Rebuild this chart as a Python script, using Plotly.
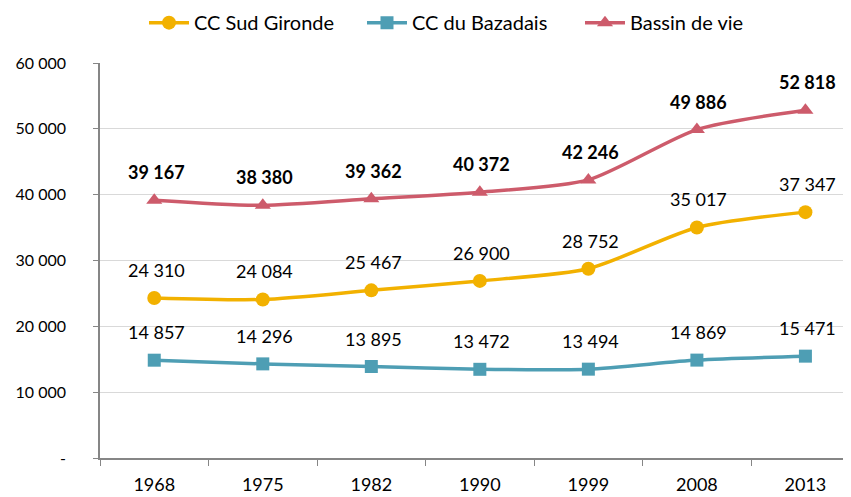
import plotly.graph_objects as go

years = ["1968", "1975", "1982", "1990", "1999", "2008", "2013"]
sud_gironde = [24310, 24084, 25467, 26900, 28752, 35017, 37347]
bazadais = [14857, 14296, 13895, 13472, 13494, 14869, 15471]
bassin = [39167, 38380, 39362, 40372, 42246, 49886, 52818]
y_ticks = [0, 10000, 20000, 30000, 40000, 50000, 60000]
y_ticktext = ["-", "10 000", "20 000", "30 000", "40 000", "50 000", "60 000"]

FONT = "Lato"
series = [
    ("CC Sud Gironde", sud_gironde, "#F2B100", "circle", 14, False),
    ("CC du Bazadais", bazadais, "#4E9EB4", "square", 13, False),
    ("Bassin de vie", bassin, "#CD5B6B", "triangle-up", 14, True),
]

def fmt(v):
    return f"{v:,}".replace(",", " ")

fig = go.Figure()
annotations = []
for name, vals, color, sym, msize, bold in series:
    fig.add_trace(go.Scatter(
        x=years, y=vals, name=name, mode="lines+markers",
        line=dict(color=color, width=3.5, shape="spline", smoothing=0.7),
        marker=dict(symbol=sym, size=msize, color=color),
    ))
    for i, v in enumerate(vals):
        t = fmt(v)
        annotations.append(dict(
            x=i, y=v, xref="x", yref="y", text=f"<b>{t}</b>" if bold else t,
            showarrow=False, yshift=28, xshift=2, yanchor="middle",
            font=dict(family=FONT, size=18, color="#000000"),
        ))

fig.update_layout(
    width=843, height=489,
    margin=dict(l=92, r=0, t=55, b=39, autoexpand=False),
    paper_bgcolor="white", plot_bgcolor="white",
    font=dict(family=FONT, color="#000000"),
    annotations=annotations,
    legend=dict(
        orientation="h", x=0.494, xref="paper", xanchor="center",
        y=0.97, yref="container", yanchor="middle",
        font=dict(family=FONT, size=20, color="#000000"),
        itemwidth=40, tracegroupgap=0, entrywidth=163,
    ),
    xaxis=dict(
        type="category", range=[-0.5, 6.42],
        showgrid=False, showline=True, linecolor="#868686", linewidth=1.5,
        ticks="outside", tickson="boundaries", ticklen=6, tickcolor="#868686",
        tickfont=dict(family=FONT, size=18, color="#000000"),
        ticklabelstandoff=10,
    ),
    yaxis=dict(
        range=[0, 60000], tickvals=y_ticks, ticktext=y_ticktext,
        showgrid=True, gridcolor="#D9D9D9", gridwidth=1,
        showline=True, linecolor="#868686", linewidth=1.5,
        ticks="outside", ticklen=5, tickcolor="#868686",
        tickfont=dict(family=FONT, size=16, color="#000000"),
        ticklabelstandoff=24, zeroline=False,
    ),
)

fig.write_html("out.html")
